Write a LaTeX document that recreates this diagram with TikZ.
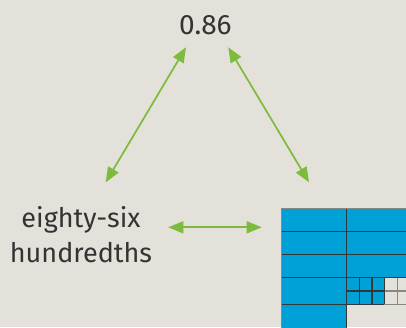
\documentclass[tikz,border=0pt]{standalone}
\usepackage{fontspec}
\setmainfont{Fira Sans}
\usetikzlibrary{arrows.meta}
\definecolor{paper}{RGB}{227,225,218}
\definecolor{ink}{RGB}{51,51,51}
\definecolor{leaf}{RGB}{124,187,59}
\definecolor{fillblue}{RGB}{0,161,214}
\definecolor{gridline}{RGB}{50,55,58}
\definecolor{softline}{RGB}{135,135,133}
\tikzset{
  label text/.style={text=ink, inner sep=0pt, font=\fontsize{27}{34.4}\selectfont},
  pair arrow/.style={draw=leaf, line width=1.7pt,
    {Triangle[length=15pt,width=12pt]}-{Triangle[length=15pt,width=12pt]}},
  filled cell/.style={fill=fillblue},
  dark rule/.style={draw=gridline, line width=1.4pt},
  soft rule/.style={draw=softline, line width=1.4pt},
}
\begin{document}
\begin{tikzpicture}[x=1pt,y=-1pt]
  \fill[paper] (0,0) rectangle (406,327);
  \useasboundingbox (0,0) rectangle (406,327);

  % labels
  \node[label text, font=\fontsize{28}{34}\selectfont, anchor=base] (dec) at (205.4,34) {0.86};
  \node[label text, align=center, anchor=base] (words) at (81,262) {eighty-six\\hundredths};

  % hundredths grid (partly outside the frame)
  \begin{scope}
    \clip (0,0) rectangle (406,327);
    % shaded part
    \fill[filled cell] (281.7,208.5) rectangle (420,277.3);
    \fill[filled cell] (281.7,277.3) rectangle (346.7,340);
    \fill[filled cell] (346.7,277.3) rectangle (384.3,304.3);
    % light rules in the unshaded part
    \draw[soft rule] (384.3,291) -- (420,291);
    \draw[soft rule] (397.3,277.3) -- (397.3,304.3);
    \draw[soft rule] (384.3,304.3) -- (420,304.3);
    % dark rules
    \draw[dark rule] (281.7,231.7) -- (420,231.7);
    \draw[dark rule] (281.7,254.3) -- (420,254.3);
    \draw[dark rule] (281.7,277.3) -- (420,277.3);
    \draw[dark rule] (281.7,304.3) -- (346.7,304.3);
    \draw[dark rule] (346.7,291) -- (384.3,291);
    \draw[dark rule] (346.7,208.5) -- (346.7,340);
    \draw[dark rule] (359.3,277.3) -- (359.3,304.3);
    \draw[dark rule] (372,277.3) -- (372,304.3);
    \draw[dark rule] (384.3,277.3) -- (384.3,304.3);
    \draw[dark rule] (346.7,304.3) -- (384.3,304.3);
    % outer frame
    \draw[soft rule] (281.7,340) -- (281.7,208.5) -- (420,208.5);
  \end{scope}
  \coordinate (grid) at (281.7,208.5);

  % arrow ends
  \coordinate (decL) at (186,47.3);
  \coordinate (decR) at (228.3,47.3);
  \coordinate (wordsT) at (105.7,182.3);
  \coordinate (wordsR) at (168.3,227.3);
  \coordinate (gridT) at (309,182.3);
  \coordinate (gridL) at (261.7,227.3);

  \draw[pair arrow] (wordsT) -- (decL);
  \draw[pair arrow] (decR) -- (gridT);
  \draw[pair arrow] (wordsR) -- (gridL);
\end{tikzpicture}
\end{document}
